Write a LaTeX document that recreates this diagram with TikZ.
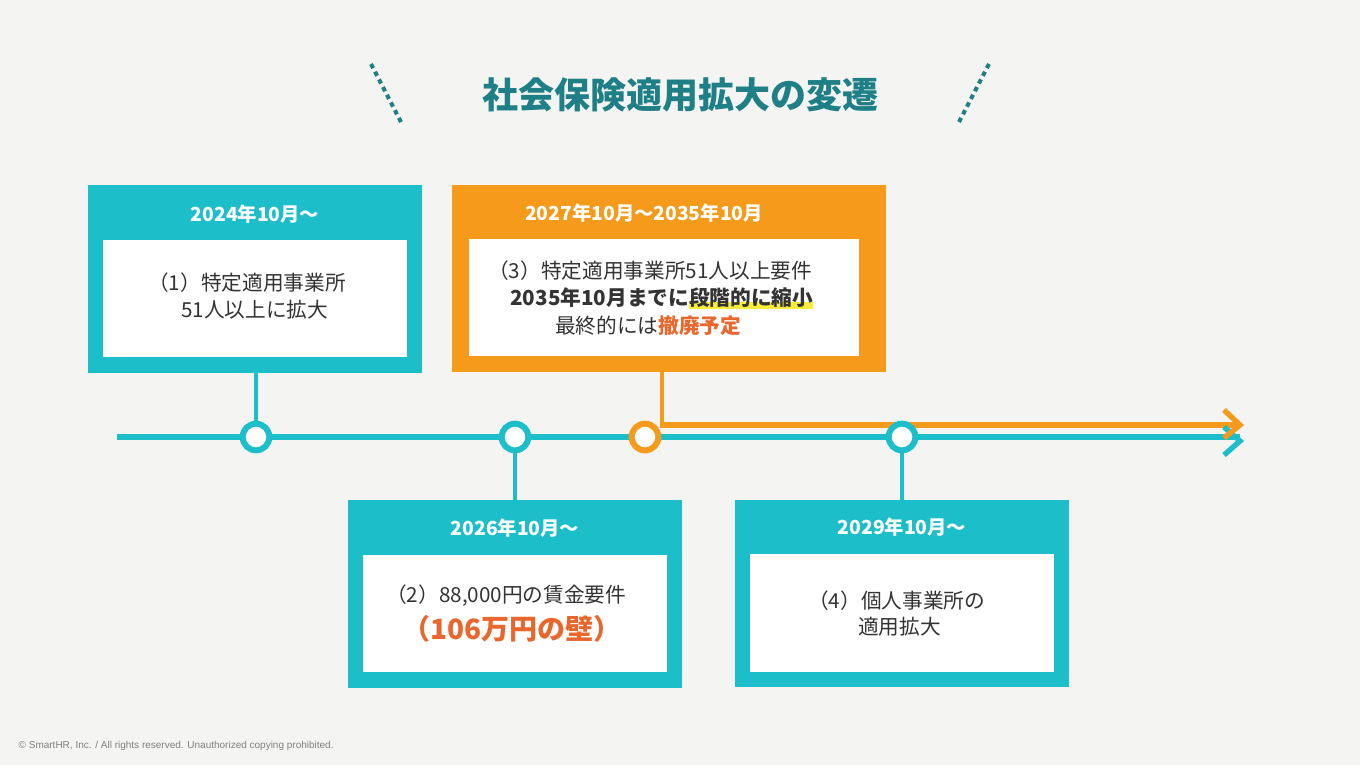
\documentclass[tikz,border=0pt]{standalone}
\usepackage{fontspec}
\setmainfont{Noto Sans CJK JP}
\newfontfamily\latinf{Liberation Sans}
\usetikzlibrary{arrows.meta}
\definecolor{teal1}{HTML}{1CBFC9}
\definecolor{orange1}{HTML}{F59A1B}
\definecolor{ttl}{HTML}{1E7F86}
\definecolor{bg}{HTML}{F4F4F2}
\definecolor{txt}{HTML}{333333}
\definecolor{red1}{HTML}{E9662C}
\definecolor{hl}{HTML}{F8EE3A}
\tikzset{
  outerbox/.style={fill=#1,draw=none},
  innerbox/.style={fill=white,draw=none},
  head/.style={text=white,font=\fontsize{14.5}{16}\selectfont\bfseries},
  body/.style={text=txt,font=\fontsize{15.5}{21}\selectfont,anchor=west,inner sep=0pt},
  dot/.style={circle,draw=#1,line width=4.5pt,fill=white,minimum size=20pt,inner sep=0pt},
  tline/.style={draw=#1,line width=5pt},
  conn/.style={draw=#1,line width=2.6pt},
  deco/.style={draw=ttl,line width=3pt,dash pattern=on 3.5pt off 3pt}
}
\begin{document}
\begin{tikzpicture}[x=0.75pt,y=-0.75pt]
\useasboundingbox (0,0) rectangle (1360,765);
\fill[bg] (0,0) rectangle (1360,765);
% title
\node (title) at (680,95) {\textcolor{ttl}{\fontsize{27}{30}\selectfont\bfseries 社会保険適用拡大の変遷}};
\coordinate (d1a) at (371,64); \coordinate (d1b) at (401,122);
\coordinate (d2a) at (989,64); \coordinate (d2b) at (959,122);
\draw[deco] (d1a) -- (d1b);
\draw[deco] (d2a) -- (d2b);
% boxes
\fill[outerbox=teal1] (88,185) rectangle (422,373);
\fill[innerbox] (103,240) rectangle (407,357);
\fill[outerbox=orange1] (452,185) rectangle (886,372);
\fill[innerbox] (469,239) rectangle (859,356);
\fill[outerbox=teal1] (348,500) rectangle (682,688);
\fill[innerbox] (363,555) rectangle (667,672);
\fill[outerbox=teal1] (735,500) rectangle (1069,687);
\fill[innerbox] (750,554) rectangle (1054,672);
\node[head] (h1) at (255,214) {2024年10月～};
\node[head] (h2) at (644,213) {2027年10月～2035年10月};
\node[head] (h3) at (515,528) {2026年10月～};
\node[head] (h4) at (902,527) {2029年10月～};
\node[body] (b1a) at (148,283) {（1）特定適用事業所};
\node[body] (b1b) at (181,310) {51人以上に拡大};
\fill[hl] (689,302) rectangle (813,309);
\node[body] (b2a) at (488,271) {（3）特定適用事業所51人以上要件};
\node[body] (b2b) at (510,298) {\textbf{2035年10月までに段階的に縮小}};
\node[body] (b2c) at (555,326) {最終的には\textcolor{red1}{\textbf{撤廃予定}}};
\node[body] (b3) at (386,596) {（2）88,000円の賃金要件};
\node[text=red1,font=\fontsize{21}{24}\selectfont\bfseries] (b3b) at (512,629) {（106万円の壁）};
\node[body] (b4a) at (808,601) {（4）個人事業所の};
\node[body] (b4b) at (858,627) {適用拡大};
% timeline
\coordinate (ts) at (117,437); \coordinate (te) at (1240,437);
\coordinate (os) at (660,425); \coordinate (oe) at (1240,425);
\draw[tline=teal1] (ts) -- (te);
\draw[tline=orange1] (os) -- (oe);
\draw[teal1,line width=4pt] (1224,427) -- (1240,441) -- (1224,455);
\draw[orange1,line width=4pt] (1224,410) -- (1240,425) -- (1224,438);
% connectors
\coordinate (c1) at (256,373); \coordinate (c2) at (515,500); \coordinate (c3) at (902,500); \coordinate (c4) at (662,372);
\node[dot=teal1] (p1) at (256,437) {};
\node[dot=teal1] (p2) at (515,437) {};
\node[dot=orange1] (p3) at (645,437) {};
\node[dot=teal1] (p4) at (902,437) {};
\draw[conn=teal1] (c1) -- (p1);
\draw[conn=teal1] (c2) -- (p2);
\draw[conn=teal1] (c3) -- (p4);
\draw[conn=orange1] (c4) -- (662,425);
\node[anchor=west,text=gray,font=\latinf\fontsize{7.5}{9}\selectfont] (copy) at (14,746) {© SmartHR, Inc. / All rights reserved. Unauthorized copying prohibited.};
\end{tikzpicture}
\end{document}
